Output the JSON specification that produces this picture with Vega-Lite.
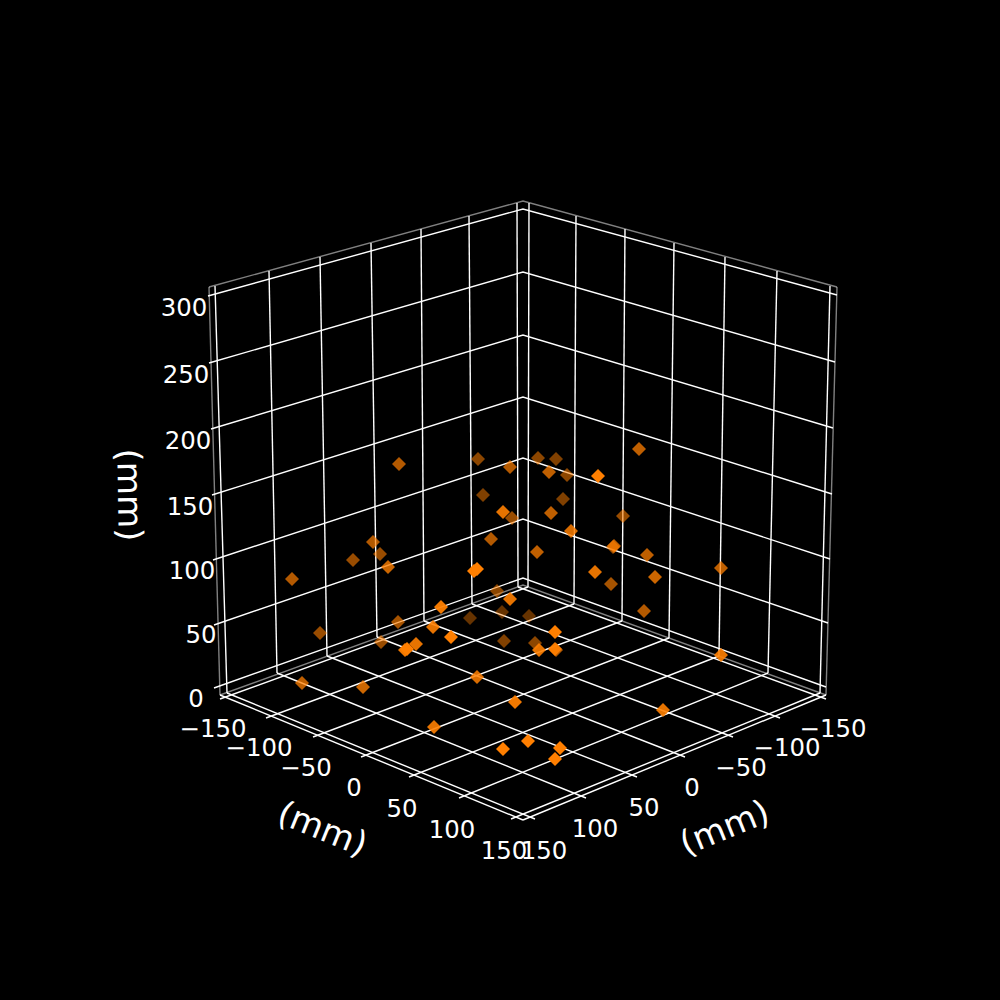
{"$schema":"https://vega.github.io/schema/vega-lite/v6.json","width":1000,"height":1000,"padding":0,"autosize":{"type":"fit","contains":"padding"},"background":"#000000","config":{"view":{"stroke":null}},
"datasets":{
"pane":[{"id":"top","u":209,"v":287},{"id":"top","u":523,"v":201},{"id":"top","u":837,"v":287},{"id":"bottom","u":220,"v":695},{"id":"bottom","u":523,"v":585},{"id":"bottom","u":826,"v":695},{"id":"left","u":209,"v":287},{"id":"left","u":220,"v":695},{"id":"right","u":837,"v":287},{"id":"right","u":826,"v":695}],
"grid":[
{"id":"axL","u":220,"v":695},{"id":"axL","u":523,"v":820},{"id":"axR","u":523,"v":820},{"id":"axR","u":826,"v":695},
{"id":"z300","u":208,"v":296},{"id":"z300","u":523,"v":209},{"id":"z300","u":837,"v":295},
{"id":"z250","u":209,"v":363},{"id":"z250","u":523,"v":272},{"id":"z250","u":835,"v":362},
{"id":"z200","u":211,"v":429},{"id":"z200","u":523,"v":335},{"id":"z200","u":833,"v":428},
{"id":"z150","u":212,"v":495},{"id":"z150","u":523,"v":397},{"id":"z150","u":832,"v":494},
{"id":"z100","u":213,"v":560},{"id":"z100","u":523,"v":458},{"id":"z100","u":830,"v":559},
{"id":"z50","u":214,"v":625},{"id":"z50","u":523,"v":519},{"id":"z50","u":828,"v":623},
{"id":"z0","u":214,"v":688},{"id":"z0","u":523,"v":578},{"id":"z0","u":826,"v":687},
{"id":"l1","u":215,"v":286},{"id":"l1","u":227,"v":693},{"id":"l2","u":269,"v":271},{"id":"l2","u":277,"v":673},{"id":"l3","u":320,"v":257},{"id":"l3","u":327,"v":656},{"id":"l4","u":371,"v":243},{"id":"l4","u":377,"v":637},{"id":"l5","u":421,"v":229},{"id":"l5","u":424,"v":621},{"id":"l6","u":469,"v":216},{"id":"l6","u":472,"v":604},{"id":"l7","u":517,"v":203},{"id":"l7","u":518,"v":587},
{"id":"r1","u":529,"v":203},{"id":"r1","u":528,"v":587},{"id":"r2","u":576,"v":216},{"id":"r2","u":574,"v":604},{"id":"r3","u":625,"v":229},{"id":"r3","u":622,"v":621},{"id":"r4","u":674,"v":243},{"id":"r4","u":669,"v":638},{"id":"r5","u":725,"v":257},{"id":"r5","u":719,"v":656},{"id":"r6","u":777,"v":271},{"id":"r6","u":768,"v":673},{"id":"r7","u":830,"v":286},{"id":"r7","u":820,"v":693},
{"id":"fa1","u":528,"v":587},{"id":"fa1","u":220,"v":699},{"id":"fa2","u":574,"v":604},{"id":"fa2","u":266,"v":718},{"id":"fa3","u":622,"v":621},{"id":"fa3","u":313,"v":737},{"id":"fa4","u":669,"v":638},{"id":"fa4","u":361,"v":757},{"id":"fa5","u":719,"v":656},{"id":"fa5","u":409,"v":777},{"id":"fa6","u":768,"v":673},{"id":"fa6","u":459,"v":798},{"id":"fa7","u":820,"v":693},{"id":"fa7","u":511,"v":819},
{"id":"fb1","u":518,"v":587},{"id":"fb1","u":826,"v":699},{"id":"fb2","u":472,"v":604},{"id":"fb2","u":780,"v":718},{"id":"fb3","u":424,"v":621},{"id":"fb3","u":733,"v":737},{"id":"fb4","u":377,"v":637},{"id":"fb4","u":685,"v":757},{"id":"fb5","u":327,"v":656},{"id":"fb5","u":637,"v":777},{"id":"fb6","u":277,"v":673},{"id":"fb6","u":586,"v":798},{"id":"fb7","u":227,"v":693},{"id":"fb7","u":535,"v":819}],
"points":[
{"u":478,"v":459,"depth":0.55},{"u":510,"v":467,"depth":0.7},{"u":538,"v":458,"depth":0.55},{"u":556,"v":459,"depth":0.5},{"u":549,"v":472,"depth":0.75},{"u":567,"v":475,"depth":0.55},{"u":598,"v":476,"depth":1},{"u":639,"v":449,"depth":0.75},{"u":483,"v":495,"depth":0.5},{"u":563,"v":499,"depth":0.5},{"u":503,"v":512,"depth":0.9},{"u":512,"v":518,"depth":0.6},{"u":551,"v":513,"depth":0.75},{"u":623,"v":516,"depth":0.6},{"u":571,"v":531,"depth":0.85},{"u":491,"v":539,"depth":0.7},{"u":614,"v":546,"depth":0.75},{"u":613,"v":547,"depth":0.6},{"u":537,"v":552,"depth":0.75},{"u":647,"v":555,"depth":0.75},{"u":595,"v":572,"depth":0.9},{"u":611,"v":584,"depth":0.65},{"u":655,"v":577,"depth":0.8},{"u":477,"v":569,"depth":1},{"u":474,"v":571,"depth":1},{"u":497,"v":591,"depth":0.55},{"u":510,"v":599,"depth":0.9},{"u":399,"v":464,"depth":0.7},{"u":292,"v":579,"depth":0.7},{"u":353,"v":560,"depth":0.6},{"u":373,"v":542,"depth":0.7},{"u":380,"v":554,"depth":0.6},{"u":388,"v":567,"depth":0.8},{"u":721,"v":568,"depth":0.75},{"u":644,"v":611,"depth":0.7},{"u":320,"v":633,"depth":0.6},{"u":398,"v":622,"depth":0.65},{"u":441,"v":607,"depth":0.95},{"u":433,"v":627,"depth":0.9},{"u":451,"v":637,"depth":1},{"u":416,"v":644,"depth":0.9},{"u":407,"v":649,"depth":1},{"u":405,"v":650,"depth":0.95},{"u":381,"v":642,"depth":0.6},{"u":302,"v":683,"depth":0.75},{"u":363,"v":687,"depth":0.8},{"u":477,"v":677,"depth":0.85},{"u":515,"v":702,"depth":0.95},{"u":434,"v":727,"depth":0.9},{"u":503,"v":749,"depth":1},{"u":528,"v":741,"depth":1},{"u":470,"v":618,"depth":0.4},{"u":502,"v":612,"depth":0.4},{"u":504,"v":641,"depth":0.5},{"u":529,"v":616,"depth":0.4},{"u":555,"v":632,"depth":1},{"u":535,"v":643,"depth":0.55},{"u":556,"v":650,"depth":0.7},{"u":539,"v":650,"depth":0.9},{"u":555,"v":649,"depth":0.95},{"u":560,"v":748,"depth":1},{"u":555,"v":759,"depth":1},{"u":663,"v":710,"depth":0.9},{"u":721,"v":655,"depth":0.9}],
"ticks":[
{"t":"300","u":184,"v":309},{"t":"250","u":186,"v":376},{"t":"200","u":188,"v":442},{"t":"150","u":190,"v":508},{"t":"100","u":192,"v":572},{"t":"50","u":201,"v":636},{"t":"0","u":196,"v":700},
{"t":"−150","u":213,"v":730},{"t":"−100","u":259,"v":749},{"t":"−50","u":306,"v":769},{"t":"0","u":354,"v":789},{"t":"50","u":402,"v":810},{"t":"100","u":452,"v":831},{"t":"150","u":504,"v":852},
{"t":"−150","u":833,"v":730},{"t":"−100","u":787,"v":749},{"t":"−50","u":741,"v":769},{"t":"0","u":692,"v":789},{"t":"50","u":644,"v":809},{"t":"100","u":595,"v":830},{"t":"150","u":544,"v":852}],
"titleL":[{"t":"(mm)","u":322,"v":830}],"titleR":[{"t":"(mm)","u":725,"v":829}],"titleZ":[{"t":"(mm)","u":128,"v":495}]
},
"encoding":{"x":{"field":"u","type":"quantitative","scale":{"domain":[0,1000]},"axis":null},"y":{"field":"v","type":"quantitative","scale":{"domain":[1000,0]},"axis":null}},
"layer":[
{"data":{"name":"pane"},"mark":{"type":"line","color":"#ffffff","opacity":0.5,"strokeWidth":1.4},"encoding":{"detail":{"field":"id"}}},
{"data":{"name":"grid"},"mark":{"type":"line","color":"#ffffff","strokeWidth":1.4},"encoding":{"detail":{"field":"id"}}},
{"data":{"name":"points"},"mark":{"type":"point","shape":"diamond","filled":true,"color":"#ff7f00","size":196,"strokeWidth":0},"encoding":{"opacity":{"field":"depth","type":"quantitative","scale":{"domain":[0,1],"range":[0,1]},"legend":null}}},
{"data":{"name":"ticks"},"mark":{"type":"text","font":"DejaVu Sans","fontSize":24.4,"color":"#ffffff","align":"center","baseline":"middle"},"encoding":{"text":{"field":"t"}}},
{"data":{"name":"titleL"},"mark":{"type":"text","font":"DejaVu Sans","fontSize":34,"color":"#ffffff","align":"center","baseline":"middle","angle":22},"encoding":{"text":{"field":"t"}}},
{"data":{"name":"titleR"},"mark":{"type":"text","font":"DejaVu Sans","fontSize":34,"color":"#ffffff","align":"center","baseline":"middle","angle":338},"encoding":{"text":{"field":"t"}}},
{"data":{"name":"titleZ"},"mark":{"type":"text","font":"DejaVu Sans","fontSize":34,"color":"#ffffff","align":"center","baseline":"middle","angle":89},"encoding":{"text":{"field":"t"}}}
]}
